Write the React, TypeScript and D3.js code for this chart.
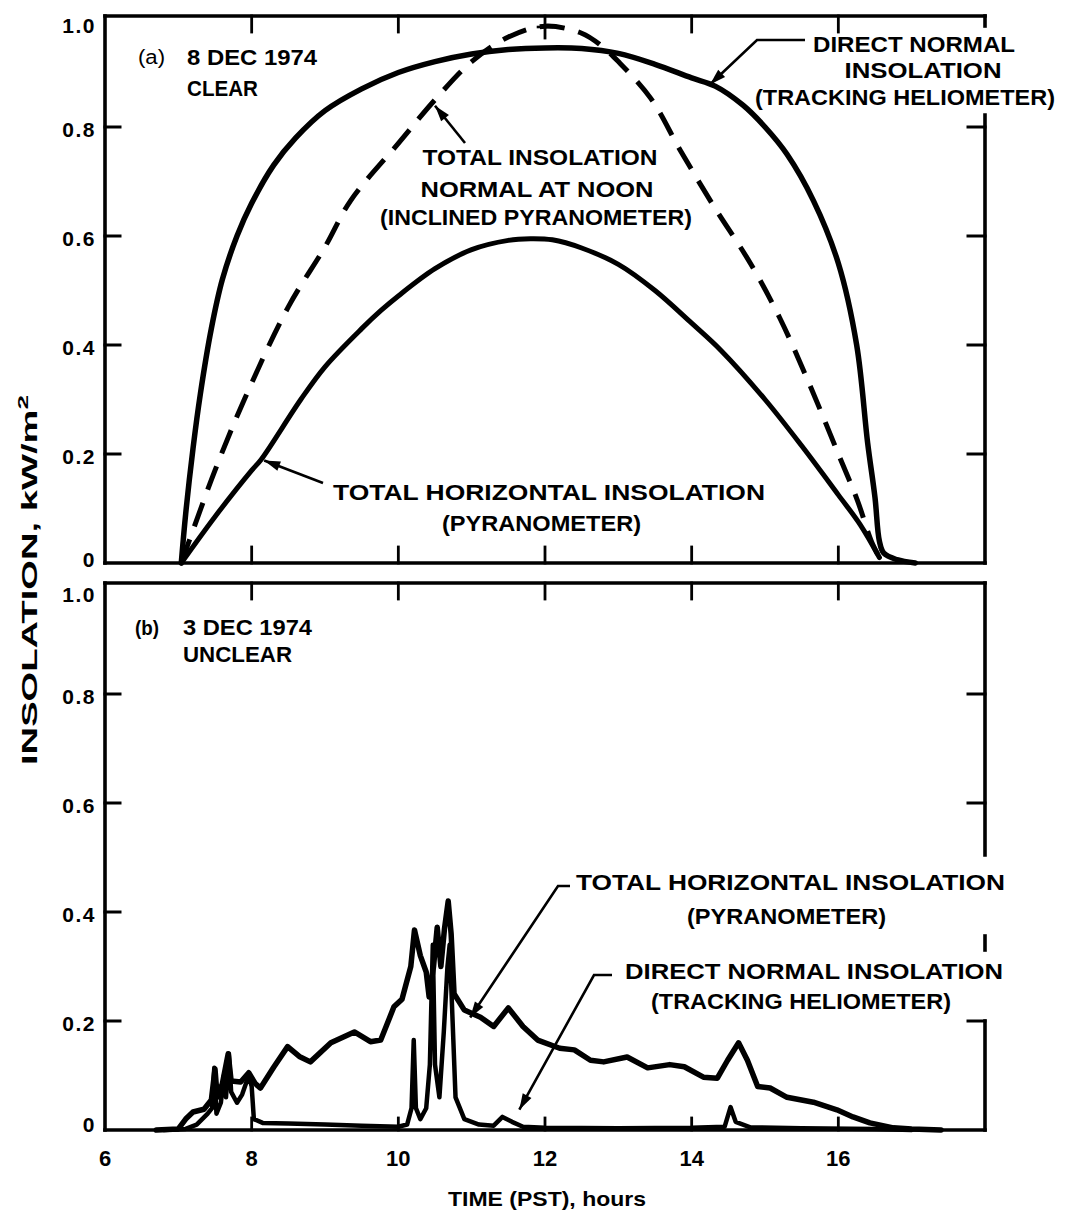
import React from "react";
import * as d3 from "d3";

// ---------- axes ----------
const X_TICKS = [6, 8, 10, 12, 14, 16];
const Y_TICKS = [0, 0.2, 0.4, 0.6, 0.8, 1.0];
const Y_TICK_LABELS = ["0", "0.2", "0.4", "0.6", "0.8", "1.0"];

// ---------- panel (a) 8 DEC 1974, clear ----------
const A_DN_T = [7.04, 7.1, 7.2, 7.3, 7.45, 7.6, 7.8, 8.0, 8.3, 8.6, 9.0, 9.5, 10.0, 10.5, 11.0, 11.5, 12.0, 12.5, 13.0, 13.5, 14.0, 14.32, 14.7, 15.0, 15.3, 15.66, 16.0, 16.25, 16.4, 16.5, 16.56, 16.62, 16.8, 17.05];
const A_DN_V = [0, 0.09, 0.21, 0.31, 0.43, 0.52, 0.6, 0.66, 0.73, 0.78, 0.83, 0.87, 0.9, 0.92, 0.934, 0.942, 0.945, 0.944, 0.935, 0.915, 0.89, 0.875, 0.84, 0.8, 0.75, 0.665, 0.55, 0.4, 0.22, 0.12, 0.04, 0.018, 0.006, 0];

const A_TN_T = [7.04, 7.2, 7.5, 7.9, 8.5, 9.0, 9.35, 10.0, 10.5, 11.0, 11.5, 12.0, 12.5, 12.76, 13.0, 13.44, 13.85, 14.3, 14.8, 15.2, 15.6, 16.0, 16.26, 16.45, 16.56];
const A_TN_V = [0, 0.06, 0.17, 0.3, 0.47, 0.58, 0.665, 0.77, 0.85, 0.92, 0.965, 0.985, 0.972, 0.95, 0.92, 0.853, 0.756, 0.655, 0.55, 0.45, 0.33, 0.2, 0.115, 0.04, 0.01];

const A_TH_T = [7.04, 7.5, 8.0, 8.13, 8.67, 9.0, 9.5, 9.76, 10.0, 10.5, 11.0, 11.5, 11.8, 12.1, 12.5, 13.0, 13.5, 14.0, 14.4, 15.0, 15.5, 16.0, 16.3, 16.56];
const A_TH_V = [0, 0.085, 0.17, 0.19, 0.3, 0.36, 0.43, 0.463, 0.49, 0.54, 0.575, 0.592, 0.595, 0.593, 0.578, 0.548, 0.5, 0.44, 0.39, 0.3, 0.215, 0.125, 0.07, 0.01];

// ---------- panel (b) 3 DEC 1974, unclear ----------
const B_TH_T = [6.7, 7.0, 7.1, 7.2, 7.35, 7.45, 7.5, 7.53, 7.6, 7.68, 7.72, 7.85, 7.96, 8.05, 8.12, 8.3, 8.49, 8.65, 8.8, 9.08, 9.4, 9.62, 9.76, 9.94, 10.05, 10.17, 10.22, 10.3, 10.38, 10.42, 10.48, 10.53, 10.58, 10.63, 10.68, 10.72, 10.76, 10.9, 11.12, 11.3, 11.5, 11.7, 11.9, 12.2, 12.4, 12.62, 12.8, 13.12, 13.4, 13.7, 13.9, 14.16, 14.35, 14.49, 14.64, 14.76, 14.9, 15.07, 15.3, 15.66, 15.98, 16.2, 16.43, 16.75, 17.0, 17.4];
const B_TH_V = [0, 0.002, 0.02, 0.033, 0.038, 0.055, 0.112, 0.06, 0.085, 0.14, 0.09, 0.088, 0.105, 0.085, 0.077, 0.115, 0.153, 0.135, 0.125, 0.16, 0.18, 0.162, 0.165, 0.226, 0.24, 0.3, 0.367, 0.32, 0.29, 0.244, 0.3, 0.372, 0.3, 0.37, 0.42, 0.36, 0.25, 0.22, 0.207, 0.19, 0.224, 0.19, 0.165, 0.15, 0.147, 0.128, 0.125, 0.134, 0.114, 0.12, 0.116, 0.097, 0.095, 0.128, 0.16, 0.128, 0.08, 0.077, 0.06, 0.051, 0.037, 0.024, 0.013, 0.004, 0.002, 0];

const B_DN_T = [6.8, 7.1, 7.25, 7.4, 7.46, 7.49, 7.52, 7.58, 7.62, 7.65, 7.69, 7.72, 7.8, 7.87, 7.96, 8.0, 8.03, 8.15, 8.5, 9.0, 9.5, 10.0, 10.12, 10.18, 10.21, 10.24, 10.3, 10.38, 10.43, 10.47, 10.5, 10.56, 10.62, 10.67, 10.7, 10.74, 10.78, 10.9, 11.1, 11.3, 11.42, 11.55, 11.7, 12.0, 13.0, 14.0, 14.45, 14.53, 14.6, 14.8, 15.5, 16.5, 17.0];
const B_DN_V = [0, 0.002, 0.01, 0.03, 0.04, 0.114, 0.03, 0.05, 0.1, 0.06, 0.14, 0.07, 0.05, 0.065, 0.1, 0.08, 0.02, 0.013, 0.012, 0.01, 0.008, 0.006, 0.01, 0.04, 0.165, 0.04, 0.02, 0.04, 0.12, 0.34, 0.12, 0.06, 0.18, 0.3, 0.34, 0.2, 0.06, 0.02, 0.01, 0.008, 0.024, 0.015, 0.006, 0.004, 0.003, 0.004, 0.006, 0.042, 0.015, 0.005, 0.003, 0.002, 0];

const FONT = "'Liberation Sans', Arial, sans-serif";

type P = [number, number];
const zip = (t: number[], v: number[]): P[] => t.map((h, i) => [h, v[i]]);

const Label = ({ x, y, w, text, size = 22, anchor = "start", weight = 700 }: any) => (
  <text
    x={x}
    y={y}
    fontFamily={FONT}
    fontSize={size}
    fontWeight={weight}
    textAnchor={anchor}
    textLength={w}
    lengthAdjust="spacingAndGlyphs"
    fill="#000"
  >
    {text}
  </text>
);

const Arrow = ({ pts }: { pts: P[] }) => {
  const n = pts.length;
  const [x1, y1] = pts[n - 2];
  const [x2, y2] = pts[n - 1];
  const a = Math.atan2(y2 - y1, x2 - x1);
  const L = 16, W = 5;
  const bx = x2 - L * Math.cos(a), by = y2 - L * Math.sin(a);
  const head = `M${x2},${y2} L${bx + W * Math.sin(a)},${by - W * Math.cos(a)} L${bx - W * Math.sin(a)},${by + W * Math.cos(a)} Z`;
  return (
    <g>
      <polyline points={pts.map((p) => p.join(",")).join(" ")} fill="none" stroke="#000" strokeWidth={2.6} />
      <path d={head} fill="#000" />
    </g>
  );
};

// vertical offset of a y tick label's baseline from its tick
const labelDy = (v: number, panel: "a" | "b") => (v === 0 ? (panel === "a" ? 4 : 2) : v === 1 ? (panel === "a" ? 15 : 17) : 10);

export default function App() {
  const x = d3.scaleLinear().domain([6, 18]).range([105, 985]);
  const yA = d3.scaleLinear().domain([0, 1]).range([563, 18]);
  const yB = d3.scaleLinear().domain([0, 1]).range([1130, 585]);

  const smooth = (y: d3.ScaleLinear<number, number>) =>
    d3.line<P>().x((d) => x(d[0])).y((d) => y(d[1])).curve(d3.curveCatmullRom.alpha(0.5));
  const sharp = (y: d3.ScaleLinear<number, number>) =>
    d3.line<P>().x((d) => x(d[0])).y((d) => y(d[1])).curve(d3.curveLinear);

  const L = 105, R = 985;
  const aTop = 16, aBot = yA(0);
  const bTop = 583, bBot = yB(0);
  const fw = 3.6;
  const inner = [8, 10, 12, 14, 16];

  const ln = (x1: number, y1: number, x2: number, y2: number, k: string, w = fw) => (
    <line key={k} x1={x1} y1={y1} x2={x2} y2={y2} stroke="#000" strokeWidth={w} strokeLinecap="square" />
  );

  return (
    <svg width={1069} height={1213} style={{ display: "block", position: "absolute", left: 0, top: 0, background: "#fff" }}>
      <rect width={1069} height={1213} fill="#fff" />

      {/* ---------- frame (a) ---------- */}
      {ln(L, aTop, L, aBot, "al")}
      {ln(L, aTop, R, aTop, "at")}
      {ln(R, aTop, R, aTop + 10, "arc")}
      {ln(L, aBot, R, aBot, "ab")}
      {ln(R, yA(0.8) - 12, R, aBot, "ar")}
      {[0.2, 0.4, 0.6, 0.8].map((v) => ln(L, yA(v), L + 15, yA(v), "alt" + v, 3))}
      {[0.2, 0.4, 0.6, 0.8].map((v) => ln(R - 17, yA(v), R, yA(v), "art" + v, 3))}
      {inner.map((h) => ln(x(h), aTop, x(h), aTop + (h === 12 ? 22 : 16), "att" + h, 2.8))}
      {ln(x(12) - 7, aTop + 11, x(12) + 7, aTop + 11, "cross", 2.6)}
      {inner.map((h) => ln(x(h), aBot, x(h), aBot - 16, "abt" + h, 2.8))}

      {/* ---------- frame (b) ---------- */}
      {ln(L, bTop, L, bBot, "bl")}
      {ln(L, bTop, R, bTop, "bt")}
      {ln(L, bBot, R, bBot, "bb")}
      {ln(R, bTop, R, 855, "br1")}
      {ln(R, 936, R, 950, "br2")}
      {ln(R, yB(0.2), R, bBot, "br3")}
      {[0.2, 0.4, 0.6, 0.8].map((v) => ln(L, yB(v), L + 15, yB(v), "blt" + v, 3))}
      {[0.2, 0.6, 0.8].map((v) => ln(R - 17, yB(v), R, yB(v), "brt" + v, 3))}
      {inner.map((h) => ln(x(h), bTop, x(h), bTop + 16, "btt" + h, 2.8))}
      {inner.map((h) => ln(x(h), bBot, x(h), bBot - 12, "bbt" + h, 2.8))}

      {/* ---------- tick labels ---------- */}
      {Y_TICKS.map((v, i) => (
        <text key={"ya" + v} x={96} y={yA(v) + labelDy(v, "a")} textAnchor="end" fontFamily={FONT} fontWeight={700} fontSize={21} letterSpacing={1.5}>
          {Y_TICK_LABELS[i]}
        </text>
      ))}
      {Y_TICKS.map((v, i) => (
        <text key={"yb" + v} x={96} y={yB(v) + labelDy(v, "b")} textAnchor="end" fontFamily={FONT} fontWeight={700} fontSize={21} letterSpacing={1.5}>
          {Y_TICK_LABELS[i]}
        </text>
      ))}
      {X_TICKS.map((h) => (
        <text key={"x" + h} x={x(h)} y={1166} textAnchor="middle" fontFamily={FONT} fontWeight={700} fontSize={22}>
          {h}
        </text>
      ))}
      <Label x={547} y={1206} w={198} text="TIME (PST), hours" anchor="middle" size={21} />
      <text
        transform="translate(37,580) rotate(-90)"
        textAnchor="middle"
        fontFamily={FONT}
        fontWeight={700}
        fontSize={22}
        textLength={370}
        lengthAdjust="spacingAndGlyphs"
      >
        INSOLATION, kW/m<tspan fontSize={15} dy={-9}>2</tspan>
      </text>

      {/* ---------- curves (a) ---------- */}
      <path d={smooth(yA)(zip(A_DN_T, A_DN_V)) || ""} fill="none" stroke="#000" strokeWidth={5.5} strokeLinejoin="round" strokeLinecap="round" />
      <path d={smooth(yA)(zip(A_TH_T, A_TH_V)) || ""} fill="none" stroke="#000" strokeWidth={5} strokeLinejoin="round" strokeLinecap="round" />
      <path d={smooth(yA)(zip(A_TN_T, A_TN_V)) || ""} fill="none" stroke="#000" strokeWidth={5} strokeDasharray="25 14" />

      {/* ---------- curves (b) ---------- */}
      <path d={sharp(yB)(zip(B_TH_T, B_TH_V)) || ""} fill="none" stroke="#000" strokeWidth={5.5} strokeLinejoin="round" strokeLinecap="round" />
      <path d={sharp(yB)(zip(B_DN_T, B_DN_V)) || ""} fill="none" stroke="#000" strokeWidth={4.5} strokeLinejoin="round" strokeLinecap="round" />

      {/* ---------- annotations (a) ---------- */}
      <Label x={138} y={64} w={27} text="(a)" size={20} weight={400} />
      <Label x={187} y={65} w={130} text="8 DEC 1974" />
      <Label x={187} y={96} w={71} text="CLEAR" />

      <Label x={914} y={52} w={202} text="DIRECT NORMAL" anchor="middle" />
      <Label x={923} y={78} w={157} text="INSOLATION" anchor="middle" />
      <Label x={905} y={105} w={300} text="(TRACKING HELIOMETER)" anchor="middle" />
      <Arrow pts={[[805, 40], [757, 40], [x(14.25), yA(0.878)]]} />

      <Label x={540} y={165} w={235} text="TOTAL INSOLATION" anchor="middle" />
      <Label x={537} y={197} w={233} text="NORMAL AT NOON" anchor="middle" />
      <Label x={536} y={225} w={312} text="(INCLINED PYRANOMETER)" anchor="middle" />
      <Arrow pts={[[465, 143], [x(10.5), yA(0.85) + 6]]} />

      <Label x={333} y={500} w={432} text="TOTAL HORIZONTAL INSOLATION" />
      <Label x={442} y={531} w={199} text="(PYRANOMETER)" />
      <Arrow pts={[[323, 483], [x(8.13) + 3, yA(0.19) + 1]]} />

      {/* ---------- annotations (b) ---------- */}
      <Label x={135} y={635} w={24} text="(b)" size={21} weight={700} />
      <Label x={183} y={635} w={129} text="3 DEC 1974" />
      <Label x={183} y={662} w={109} text="UNCLEAR" />

      <Label x={576} y={890} w={429} text="TOTAL HORIZONTAL INSOLATION" />
      <Label x={687} y={924} w={199} text="(PYRANOMETER)" />
      <Arrow pts={[[570, 886], [558, 886], [x(10.98), yB(0.212) + 3]]} />

      <Label x={625} y={979} w={378} text="DIRECT NORMAL INSOLATION" />
      <Label x={651} y={1009} w={300} text="(TRACKING HELIOMETER)" />
      <Arrow pts={[[612, 975], [594, 975], [x(11.65), yB(0.03) - 4]]} />
    </svg>
  );
}
